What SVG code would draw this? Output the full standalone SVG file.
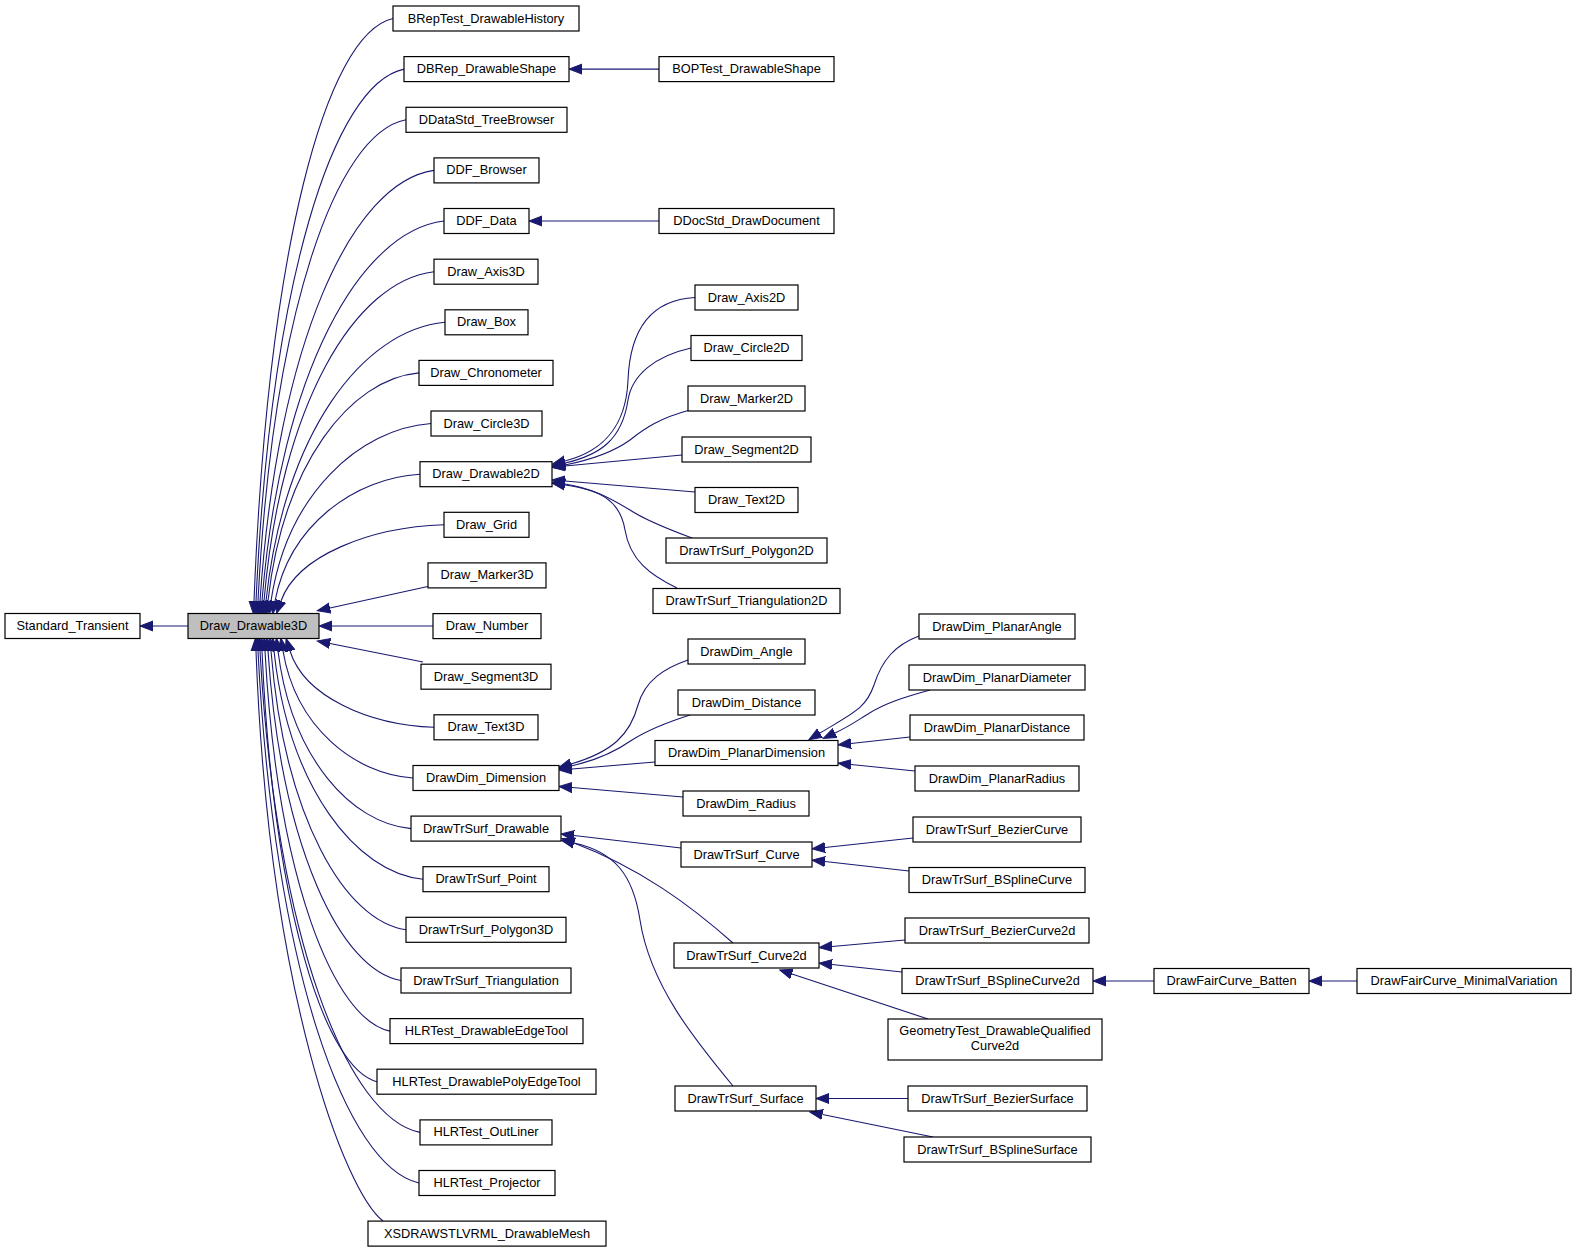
<svg xmlns="http://www.w3.org/2000/svg" width="1576" height="1253" viewBox="0 0 1576 1253">
<style>
.node rect{fill:#ffffff;stroke:#000000;stroke-width:1.2}
.node.hl rect{fill:#bfbfbf}
.node text{font-family:"Liberation Sans",Arial,Helvetica,sans-serif;font-size:12.8px;fill:#000000;text-anchor:middle}
.edge{fill:none;stroke:#191970;stroke-width:1.1;marker-end:url(#arr)}
</style>
<defs>
<marker id="arr" viewBox="0 -6 14 12" refX="0" refY="0" markerWidth="14" markerHeight="12" markerUnits="userSpaceOnUse" orient="auto">
<path d="M0,-5 L13,0 L0,5 Z" fill="#191970" stroke="#191970" stroke-width="1"/>
</marker>
</defs>
<rect width="1576" height="1253" fill="#ffffff"/>
<g id="connectors">
<path class="edge" d="M188,626 L153,626"/>
<path class="edge" d="M393,18.5 C325,34 267.9,251.5 254,601"/>
<path class="edge" d="M404,69.1 C333,84 270.8,281.9 256,601"/>
<path class="edge" d="M406,119.8 C336,133 272.8,312.3 258,601"/>
<path class="edge" d="M434,170.4 C352,182 277.4,342.6 260,601"/>
<path class="edge" d="M444,221 C360,231 280.2,373 262,601"/>
<path class="edge" d="M434,271.7 C355,281 281,403.4 264,601"/>
<path class="edge" d="M445,322.3 C362,330 283.9,433.8 266,601"/>
<path class="edge" d="M419,372.9 C350,379 283.1,464.1 268,601"/>
<path class="edge" d="M431,423.5 C359,428.8 287,494.5 271,601"/>
<path class="edge" d="M420,474.2 C354.8,478 289.5,524.9 275,601"/>
<path class="edge" d="M444,524.8 C370.7,527.1 297.3,555.3 281,601"/>
<path class="edge" d="M430,586 L330,608"/>
<path class="edge" d="M433,626 L332,626"/>
<path class="edge" d="M423,662 L330,643.5"/>
<path class="edge" d="M434,727.3 C369.2,725 304.4,696.8 290,651"/>
<path class="edge" d="M413,778 C354.5,774.2 296,727.2 283,651"/>
<path class="edge" d="M411,828.6 C351.2,823.3 291.3,757.6 278,651"/>
<path class="edge" d="M423,879.2 C356,872.4 288.9,787.9 274,651"/>
<path class="edge" d="M406,929.8 C345.3,921.4 284.5,818.3 271,651"/>
<path class="edge" d="M401,980.5 C341.2,970.6 281.3,848.7 268,651"/>
<path class="edge" d="M390,1031.1 C333.8,1019.7 277.5,879.1 265,651"/>
<path class="edge" d="M377,1081.7 C325.3,1068.8 273.5,909.4 262,651"/>
<path class="edge" d="M420,1132.4 C348,1118 276,939.8 260,651"/>
<path class="edge" d="M419,1183 C346.6,1167 274.1,970.2 258,651"/>
<path class="edge" d="M383,1221 C345,1192 268.7,993 256,651"/>
<path class="edge" d="M659,69.1 L582,69.1"/>
<path class="edge" d="M659,221 L542,221"/>
<path class="edge" d="M695,297.5 C650,300 630,330 628,380 C626,430 600,452 565,461"/>
<path class="edge" d="M691,348 C655,356 632,375 628,400 C622,440 600,455 565,463"/>
<path class="edge" d="M690,410 C660,418 645,428 630,440 C612,453 590,460 565,465"/>
<path class="edge" d="M682,455 L565,466"/>
<path class="edge" d="M695,492 L565,481"/>
<path class="edge" d="M692,538 C665,528 645,520 630,510 C610,498 592,488 565,484"/>
<path class="edge" d="M677,588 C650,575 630,560 625,530 C620,500 600,490 565,485"/>
<path class="edge" d="M688,660 C665,668 645,680 638,705 C630,735 612,752 571,764"/>
<path class="edge" d="M690,715 C668,722 648,730 632,740 C615,752 598,760 571,766"/>
<path class="edge" d="M655,762 L572,769"/>
<path class="edge" d="M683,797 L572,787.5"/>
<path class="edge" d="M919,636 C895,645 882,660 874,685 C866,708 855,712 820,733"/>
<path class="edge" d="M930,690 C905,697 885,703 868,714 C858,720 850,726 835,733"/>
<path class="edge" d="M910,737 L851,743.5"/>
<path class="edge" d="M915,771 L851,764.5"/>
<path class="edge" d="M681,848 L574,835.5"/>
<path class="edge" d="M733,943 C690,905 640,868 574,843"/>
<path class="edge" d="M733,1086 C695,1040 650,985 640,920 C633,875 615,852 574,843"/>
<path class="edge" d="M913,838 L825,847.5"/>
<path class="edge" d="M909,871 L825,861.5"/>
<path class="edge" d="M905,940 L832,946.5"/>
<path class="edge" d="M902,972 L832,964.5"/>
<path class="edge" d="M928,1019 L792,974"/>
<path class="edge" d="M908,1098.5 L829,1098.5"/>
<path class="edge" d="M933,1137 L822.5,1114.5"/>
<path class="edge" d="M1154,981 L1106,981"/>
<path class="edge" d="M1357,981 L1322,981"/>
</g>
<g id="Standard_Transient" class="node"><rect x="5" y="613.5" width="135" height="25"/><text x="72.5" y="630">Standard_Transient</text></g>
<g id="Draw_Drawable3D" class="node hl"><rect x="188" y="613.5" width="131" height="25"/><text x="253.5" y="630">Draw_Drawable3D</text></g>
<g id="BRepTest_DrawableHistory" class="node"><rect x="393" y="6" width="186" height="25"/><text x="486" y="22.5">BRepTest_DrawableHistory</text></g>
<g id="DBRep_DrawableShape" class="node"><rect x="404" y="56.6" width="165" height="25"/><text x="486.5" y="73.1">DBRep_DrawableShape</text></g>
<g id="DDataStd_TreeBrowser" class="node"><rect x="406" y="107.3" width="161" height="25"/><text x="486.5" y="123.8">DDataStd_TreeBrowser</text></g>
<g id="DDF_Browser" class="node"><rect x="434" y="157.9" width="105" height="25"/><text x="486.5" y="174.4">DDF_Browser</text></g>
<g id="DDF_Data" class="node"><rect x="444" y="208.5" width="85" height="25"/><text x="486.5" y="225">DDF_Data</text></g>
<g id="Draw_Axis3D" class="node"><rect x="434" y="259.2" width="104" height="25"/><text x="486" y="275.7">Draw_Axis3D</text></g>
<g id="Draw_Box" class="node"><rect x="445" y="309.8" width="83" height="25"/><text x="486.5" y="326.3">Draw_Box</text></g>
<g id="Draw_Chronometer" class="node"><rect x="419" y="360.4" width="134" height="25"/><text x="486" y="376.9">Draw_Chronometer</text></g>
<g id="Draw_Circle3D" class="node"><rect x="431" y="411" width="111" height="25"/><text x="486.5" y="427.5">Draw_Circle3D</text></g>
<g id="Draw_Drawable2D" class="node"><rect x="420" y="461.7" width="132" height="25"/><text x="486" y="478.2">Draw_Drawable2D</text></g>
<g id="Draw_Grid" class="node"><rect x="444" y="512.3" width="85" height="25"/><text x="486.5" y="528.8">Draw_Grid</text></g>
<g id="Draw_Marker3D" class="node"><rect x="428" y="562.9" width="118" height="25"/><text x="487" y="579.4">Draw_Marker3D</text></g>
<g id="Draw_Number" class="node"><rect x="433" y="613.6" width="108" height="25"/><text x="487" y="630.1">Draw_Number</text></g>
<g id="Draw_Segment3D" class="node"><rect x="421" y="664.2" width="130" height="25"/><text x="486" y="680.7">Draw_Segment3D</text></g>
<g id="Draw_Text3D" class="node"><rect x="434" y="714.8" width="104" height="25"/><text x="486" y="731.3">Draw_Text3D</text></g>
<g id="DrawDim_Dimension" class="node"><rect x="413" y="765.5" width="146" height="25"/><text x="486" y="782">DrawDim_Dimension</text></g>
<g id="DrawTrSurf_Drawable" class="node"><rect x="411" y="816.1" width="150" height="25"/><text x="486" y="832.6">DrawTrSurf_Drawable</text></g>
<g id="DrawTrSurf_Point" class="node"><rect x="423" y="866.7" width="126" height="25"/><text x="486" y="883.2">DrawTrSurf_Point</text></g>
<g id="DrawTrSurf_Polygon3D" class="node"><rect x="406" y="917.3" width="160" height="25"/><text x="486" y="933.8">DrawTrSurf_Polygon3D</text></g>
<g id="DrawTrSurf_Triangulation" class="node"><rect x="401" y="968" width="170" height="25"/><text x="486" y="984.5">DrawTrSurf_Triangulation</text></g>
<g id="HLRTest_DrawableEdgeTool" class="node"><rect x="390" y="1018.6" width="193" height="25"/><text x="486.5" y="1035.1">HLRTest_DrawableEdgeTool</text></g>
<g id="HLRTest_DrawablePolyEdgeTool" class="node"><rect x="377" y="1069.2" width="219" height="25"/><text x="486.5" y="1085.7">HLRTest_DrawablePolyEdgeTool</text></g>
<g id="HLRTest_OutLiner" class="node"><rect x="420" y="1119.9" width="132" height="25"/><text x="486" y="1136.4">HLRTest_OutLiner</text></g>
<g id="HLRTest_Projector" class="node"><rect x="419" y="1170.5" width="136" height="25"/><text x="487" y="1187">HLRTest_Projector</text></g>
<g id="XSDRAWSTLVRML_DrawableMesh" class="node"><rect x="368" y="1221.1" width="238" height="25"/><text x="487" y="1237.6">XSDRAWSTLVRML_DrawableMesh</text></g>
<g id="BOPTest_DrawableShape" class="node"><rect x="659" y="56.6" width="175" height="25"/><text x="746.5" y="73.1">BOPTest_DrawableShape</text></g>
<g id="DDocStd_DrawDocument" class="node"><rect x="659" y="208.5" width="175" height="25"/><text x="746.5" y="225">DDocStd_DrawDocument</text></g>
<g id="Draw_Axis2D" class="node"><rect x="695" y="285" width="103" height="25"/><text x="746.5" y="301.5">Draw_Axis2D</text></g>
<g id="Draw_Circle2D" class="node"><rect x="691" y="335.5" width="111" height="25"/><text x="746.5" y="352">Draw_Circle2D</text></g>
<g id="Draw_Marker2D" class="node"><rect x="688" y="386" width="117" height="25"/><text x="746.5" y="402.5">Draw_Marker2D</text></g>
<g id="Draw_Segment2D" class="node"><rect x="682" y="437" width="129" height="25"/><text x="746.5" y="453.5">Draw_Segment2D</text></g>
<g id="Draw_Text2D" class="node"><rect x="695" y="487.5" width="103" height="25"/><text x="746.5" y="504">Draw_Text2D</text></g>
<g id="DrawTrSurf_Polygon2D" class="node"><rect x="666" y="538" width="161" height="25"/><text x="746.5" y="554.5">DrawTrSurf_Polygon2D</text></g>
<g id="DrawTrSurf_Triangulation2D" class="node"><rect x="653" y="588.5" width="187" height="25"/><text x="746.5" y="605">DrawTrSurf_Triangulation2D</text></g>
<g id="DrawDim_Angle" class="node"><rect x="688" y="639" width="117" height="25"/><text x="746.5" y="655.5">DrawDim_Angle</text></g>
<g id="DrawDim_Distance" class="node"><rect x="678" y="690" width="137" height="25"/><text x="746.5" y="706.5">DrawDim_Distance</text></g>
<g id="DrawDim_PlanarDimension" class="node"><rect x="655" y="740.5" width="183" height="25"/><text x="746.5" y="757">DrawDim_PlanarDimension</text></g>
<g id="DrawDim_Radius" class="node"><rect x="683" y="791" width="126" height="25"/><text x="746" y="807.5">DrawDim_Radius</text></g>
<g id="DrawTrSurf_Curve" class="node"><rect x="681" y="842" width="131" height="25"/><text x="746.5" y="858.5">DrawTrSurf_Curve</text></g>
<g id="DrawTrSurf_Curve2d" class="node"><rect x="674" y="943" width="145" height="25"/><text x="746.5" y="959.5">DrawTrSurf_Curve2d</text></g>
<g id="DrawTrSurf_Surface" class="node"><rect x="675" y="1086" width="141" height="25"/><text x="745.5" y="1102.5">DrawTrSurf_Surface</text></g>
<g id="DrawDim_PlanarAngle" class="node"><rect x="919" y="614" width="156" height="25"/><text x="997" y="630.5">DrawDim_PlanarAngle</text></g>
<g id="DrawDim_PlanarDiameter" class="node"><rect x="909" y="665" width="176" height="25"/><text x="997" y="681.5">DrawDim_PlanarDiameter</text></g>
<g id="DrawDim_PlanarDistance" class="node"><rect x="910" y="715" width="174" height="25"/><text x="997" y="731.5">DrawDim_PlanarDistance</text></g>
<g id="DrawDim_PlanarRadius" class="node"><rect x="915" y="766" width="164" height="25"/><text x="997" y="782.5">DrawDim_PlanarRadius</text></g>
<g id="DrawTrSurf_BezierCurve" class="node"><rect x="913" y="817" width="168" height="25"/><text x="997" y="833.5">DrawTrSurf_BezierCurve</text></g>
<g id="DrawTrSurf_BSplineCurve" class="node"><rect x="909" y="867.5" width="176" height="25"/><text x="997" y="884">DrawTrSurf_BSplineCurve</text></g>
<g id="DrawTrSurf_BezierCurve2d" class="node"><rect x="905" y="918" width="184" height="25"/><text x="997" y="934.5">DrawTrSurf_BezierCurve2d</text></g>
<g id="DrawTrSurf_BSplineCurve2d" class="node"><rect x="902" y="968.5" width="191" height="25"/><text x="997.5" y="985">DrawTrSurf_BSplineCurve2d</text></g>
<g id="GeometryTest_DrawableQualifiedCurve2d" class="node"><rect x="888" y="1019" width="214" height="41"/><text x="995" y="1035">GeometryTest_DrawableQualified</text><text x="995" y="1050">Curve2d</text></g>
<g id="DrawTrSurf_BezierSurface" class="node"><rect x="908" y="1086" width="179" height="25"/><text x="997.5" y="1102.5">DrawTrSurf_BezierSurface</text></g>
<g id="DrawTrSurf_BSplineSurface" class="node"><rect x="904" y="1137" width="187" height="25"/><text x="997.5" y="1153.5">DrawTrSurf_BSplineSurface</text></g>
<g id="DrawFairCurve_Batten" class="node"><rect x="1154" y="968.5" width="155" height="25"/><text x="1231.5" y="985">DrawFairCurve_Batten</text></g>
<g id="DrawFairCurve_MinimalVariation" class="node"><rect x="1357" y="968.5" width="214" height="25"/><text x="1464" y="985">DrawFairCurve_MinimalVariation</text></g>
</svg>
